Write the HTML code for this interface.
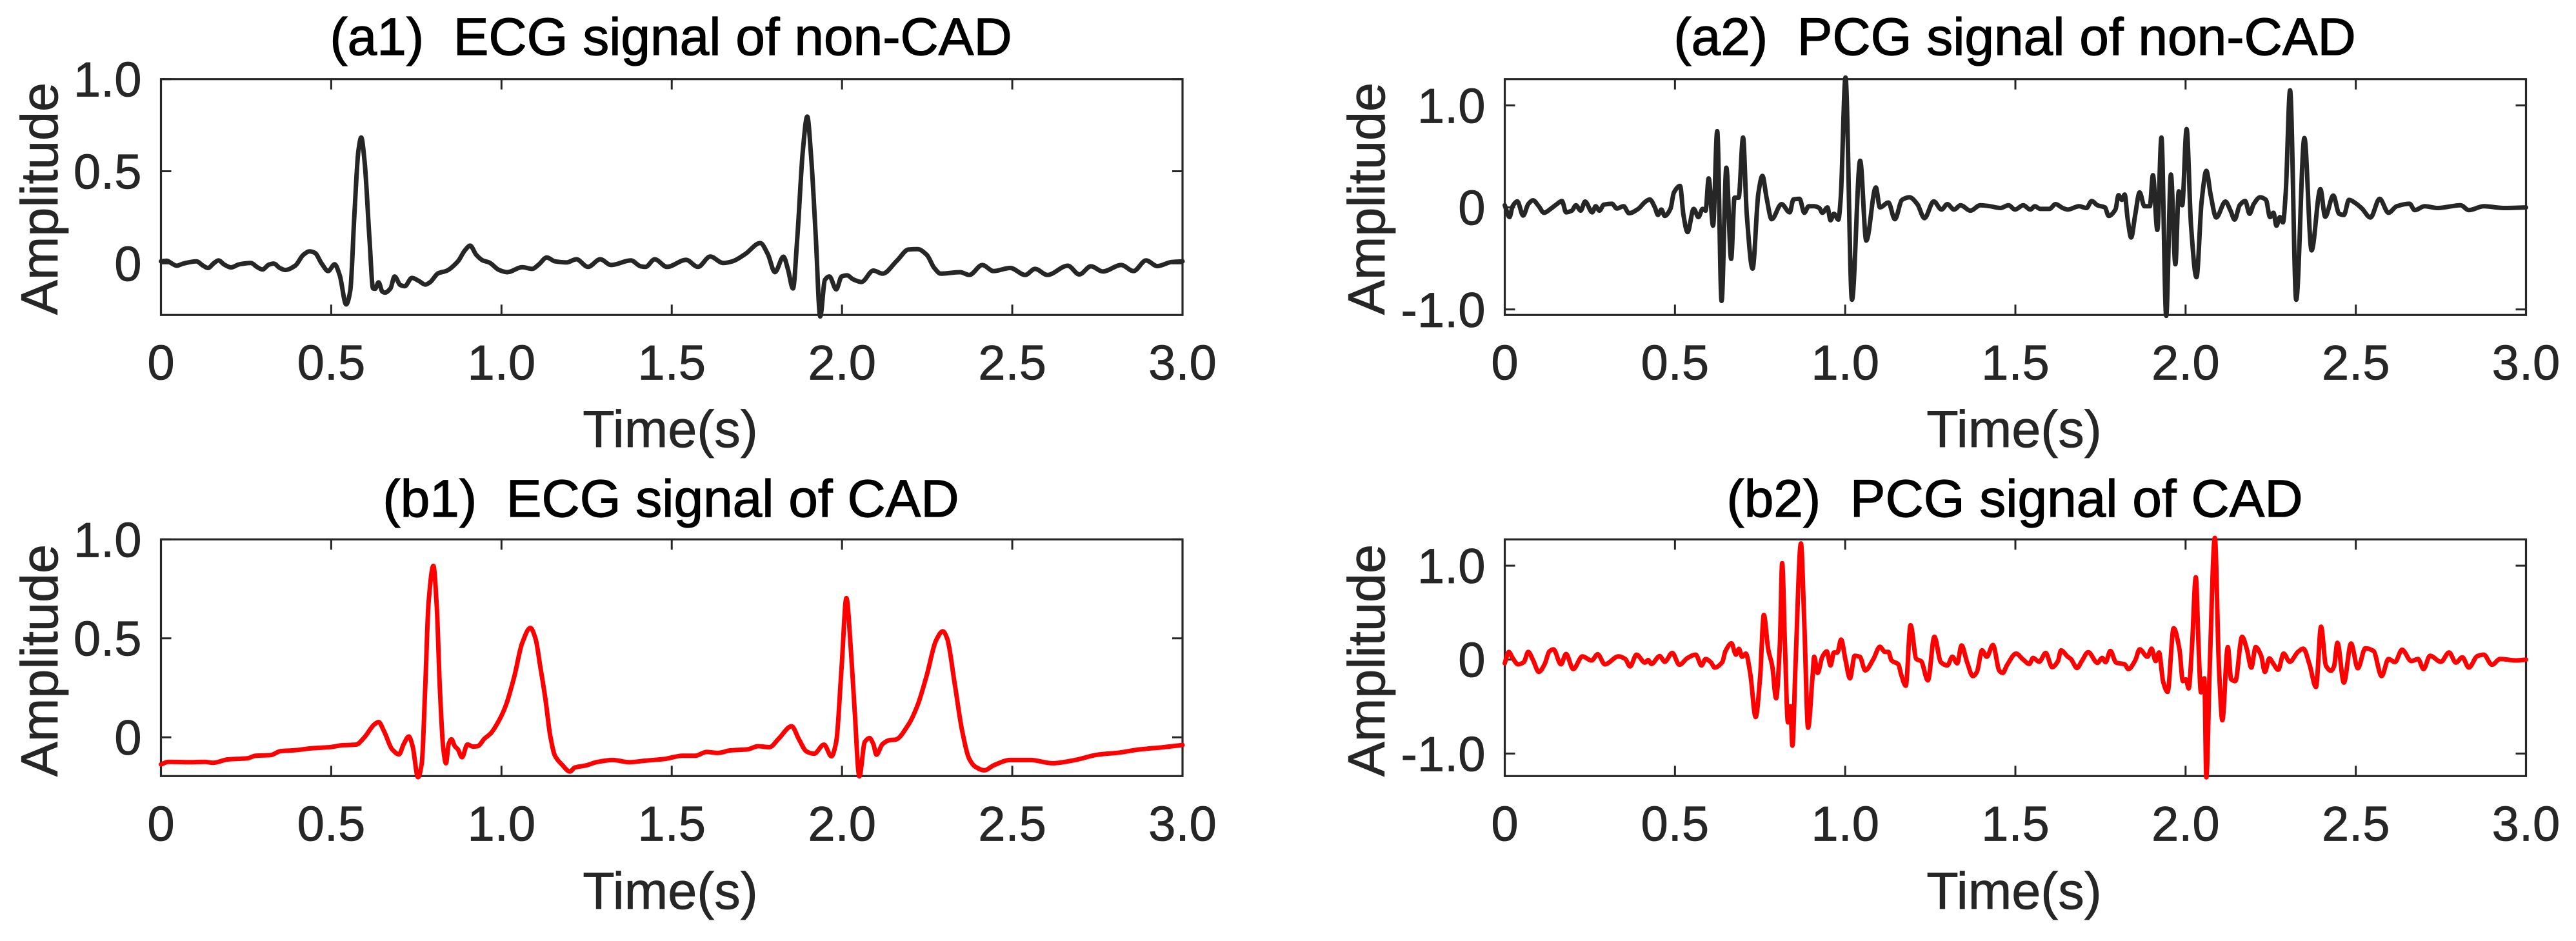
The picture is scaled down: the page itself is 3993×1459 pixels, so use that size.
<!DOCTYPE html>
<html lang="en">
<head>
<meta charset="utf-8">
<title>ECG and PCG signals of non-CAD and CAD</title>
<style>
  html, body { margin: 0; padding: 0; background: #fff; }
  svg { display: block; }
  text { font-family: "Liberation Sans", Arial, sans-serif; fill: #262626; stroke: #262626; stroke-width: 0.8px; }
  .title { font-size: 82px; fill: #000; stroke: #000; stroke-width: 1.2px; text-anchor: middle; }
  .xlabel { font-size: 81px; text-anchor: middle; }
  .ylabel { font-size: 81px; text-anchor: middle; }
</style>
</head>
<body>
<svg id="figure" xmlns="http://www.w3.org/2000/svg" width="3993" height="1459" viewBox="0 0 3993 1459">
  <rect x="0" y="0" width="3993" height="1459" fill="#ffffff"/>
  <g id="panel-a1">
    <text class="title" x="1040" y="85" xml:space="preserve">(a1)  ECG signal of non-CAD</text>
    <text class="xlabel" x="1039" y="693">Time(s)</text>
    <text class="ylabel" transform="translate(89 308) rotate(-90)">Amplitude</text>
  </g>
  <g id="panel-a2">
    <text class="title" x="3123" y="85" xml:space="preserve">(a2)  PCG signal of non-CAD</text>
    <text class="xlabel" x="3122" y="693">Time(s)</text>
    <text class="ylabel" transform="translate(2146 308) rotate(-90)">Amplitude</text>
  </g>
  <g id="panel-b1">
    <text class="title" x="1040" y="801" xml:space="preserve">(b1)  ECG signal of CAD</text>
    <text class="xlabel" x="1039" y="1409">Time(s)</text>
    <text class="ylabel" transform="translate(89 1024) rotate(-90)">Amplitude</text>
  </g>
  <g id="panel-b2">
    <text class="title" x="3123" y="801" xml:space="preserve">(b2)  PCG signal of CAD</text>
    <text class="xlabel" x="3122" y="1409">Time(s)</text>
    <text class="ylabel" transform="translate(2146 1024) rotate(-90)">Amplitude</text>
  </g>
</svg>
<script>
const xTickValues = [0, 0.5, 1, 1.5, 2, 2.5, 3];
const xTickLabels = ['0', '0.5', '1.0', '1.5', '2.0', '2.5', '3.0'];

const ecgYTickValues = [0, 0.5, 1];
const ecgYTickLabels = ['0', '0.5', '1.0'];
const pcgYTickValues = [-1, 0, 1];
const pcgYTickLabels = ['-1.0', '0', '1.0'];

const a1Times = [0,.017,.032,.046,.066,.104,.124,.138,.156,.169,.186,.206,.230,.264,.283,.298,.317,.331,.349,.365,.394,.418,.436,.452,.472,.491,.510,.525,.544,.556,.568,.580,.588,.598,.612,.623,.629,.639,.650,.658,.674,.686,.703,.716,.737,.757,.776,.790,.814,.839,.872,.892,.908,.926,.945,.964,.993,1.017,1.061,1.090,1.109,1.133,1.157,1.191,1.220,1.254,1.290,1.322,1.380,1.409,1.423,
1.450,1.486,1.542,1.577,1.613,1.651,1.678,1.716,1.760,1.782,1.803,1.828,1.841,1.856,1.869,1.885,1.898,1.909,1.923,1.936,1.950,1.963,1.983,1.999,2.015,2.032,2.057,2.092,2.119,2.162,2.195,2.222,2.249,2.271,2.290,2.347,2.374,2.412,2.445,2.494,2.538,2.567,2.603,2.663,2.697,2.731,2.766,2.820,2.856,2.893,2.926,2.967,3.0];
const a1Values = [.011,.014,-.001,-.013,-.001,.011,-.013,-.025,.002,.016,-.007,-.022,-.005,.002,-.021,-.033,-.007,-.001,-.025,-.036,-.013,.046,.065,.057,-.001,-.042,-.005,-.065,-.223,-.147,.262,.612,.683,.554,.145,-.136,-.138,-.103,-.153,-.159,-.136,-.071,-.118,-.124,-.079,-.095,-.115,-.103,-.054,-.040,.011,.069,.096,.046,.016,.005,-.036,-.048,-.021,-.030,-.007,.032,.011,.005,.022,-.019,.022,-.009,.016,-.016,-.019,
.022,-.019,.019,-.019,.037,.002,.011,.051,.110,.051,-.048,.036,-.030,-.136,.145,.612,.797,.589,.145,-.288,-.089,-.071,-.141,-.071,-.065,-.086,-.101,-.039,-.056,.016,.075,.077,.046,-.025,-.056,-.048,-.063,-.009,-.042,-.025,-.063,-.030,-.063,-.013,-.060,-.016,-.044,-.009,-.042,.016,-.015,.007,.011];

const a2Times = [0,.014,.023,.037,.054,.069,.083,.100,.115,.136,.153,.168,.180,.197,.209,.223,.236,.257,.267,.278,.291,.315,.329,.349,.365,.392,.412,.426,.441,.450,.460,.470,.487,.497,.515,.525,.537,.555,.569,.581,.590,.599,.612,.624,.637,.651,.665,.675,.687,.700,.711,.728,.745,.757,.769,.784,.813,.837,.848,.866,.880,.893,.909,.924,.933,.948,.957,.967,.980,.987,1.001,1.020,1.044,1.062,1.090,1.102,1.127,1.146,1.167,1.189,1.212,1.233,1.260,1.283,1.300,1.320,1.339,1.368,1.397,1.426,
1.456,1.480,1.499,1.523,1.544,1.557,1.573,1.600,1.618,1.639,1.654,1.687,1.709,1.724,1.741,1.763,1.774,1.794,1.803,1.813,1.821,1.830,1.840,1.852,1.865,1.879,1.895,1.904,1.917,1.929,1.943,1.957,1.970,1.980,1.990,2.003,2.016,2.032,2.047,2.061,2.074,2.090,2.117,2.132,2.144,2.159,2.175,2.188,2.200,2.219,2.236,2.248,2.258,2.267,2.277,2.286,2.294,2.307,2.325,2.349,2.370,2.396,2.410,2.434,2.451,2.465,2.480,2.499,2.518,2.543,2.570,2.596,2.620,2.658,2.673,2.702,2.741,2.808,2.832,2.876,2.934,3.0];
const a2Values = [.021,-.095,.011,.059,-.080,.032,.069,.011,-.053,-.011,.032,.063,-.048,-.032,.021,-.032,.057,-.048,.011,-.032,.027,.036,-.011,.011,-.057,-.015,.053,.078,0,-.074,-.021,-.084,-.011,.147,.211,-.074,-.242,-.015,-.095,-.015,-.032,.284,-.179,.747,-.916,.389,-.505,.095,.095,.684,-.074,-.600,.137,.309,.095,-.116,.032,-.048,.078,.084,-.053,.011,.011,-.006,-.053,0,-.126,-.063,-.120,.095,1.273,-.905,.457,-.326,.196,0,.048,-.116,.074,.099,.032,-.105,.059,-.021,.032,-.021,.021,-.032,.021,.011,
-.006,.021,-.021,.021,-.021,.011,-.015,-.015,.032,-.006,-.021,.011,-.006,.063,.021,0,-.084,-.021,.120,.074,.126,-.116,-.295,-.074,.147,.011,.011,.316,-.221,.684,-1.063,.322,-.558,.158,.021,.768,-.179,-.684,.053,.358,.116,-.099,.057,-.032,-.120,.021,.063,-.063,.032,.099,.074,-.095,-.053,-.179,-.095,-.147,.137,1.147,-.905,.680,-.421,.179,-.091,.116,-.063,-.074,.074,.042,-.011,-.099,.084,-.053,.011,.036,-.027,.011,-.006,.021,-.027,.011,-.006,0];

const b1Times = [0,.022,.085,.129,.153,.196,.254,.278,.322,.351,.389,.447,.496,.534,.573,.597,.626,.639,.655,.679,.699,.713,.728,.739,.755,.766,.776,.786,.800,.810,.819,.829,.837,.845,.853,.863,.872,.884,.900,.916,.930,.950,.969,.993,1.013,1.037,1.061,1.085,1.100,1.114,1.129,1.143,1.157,1.177,1.201,1.215,1.249,1.278,1.327,1.375,
1.423,1.477,1.532,1.570,1.602,1.635,1.673,1.722,1.754,1.787,1.814,1.852,1.874,1.896,1.918,1.947,1.969,1.983,1.999,2.013,2.026,2.037,2.051,2.067,2.081,2.092,2.101,2.119,2.141,2.157,2.195,2.222,2.249,2.276,2.296,2.309,2.331,2.353,2.374,2.391,2.418,2.445,2.494,2.554,2.619,2.684,2.750,2.815,2.875,2.945,3.0];
const b1Values = [-.137,-.124,-.126,-.124,-.129,-.112,-.106,-.093,-.090,-.070,-.066,-.055,-.050,-.040,-.037,-.001,.064,.077,.031,-.061,-.086,-.034,.004,-.045,-.202,-.131,.249,.683,.866,.661,.249,-.055,-.131,-.034,-.010,-.045,-.061,-.101,-.036,-.047,-.045,-.007,.021,.086,.162,.303,.477,.553,.498,.357,.194,.010,-.093,-.137,-.173,-.153,-.142,-.126,-.115,-.126,
-.118,-.110,-.093,-.093,-.074,-.079,-.066,-.061,-.045,-.050,-.007,.056,-.012,-.072,-.083,-.037,-.096,-.023,.357,.703,.444,.140,-.197,-.023,-.004,-.034,-.088,-.034,-.014,-.012,.064,.162,.314,.488,.536,.498,.270,.031,-.110,-.148,-.167,-.142,-.115,-.115,-.131,-.115,-.088,-.077,-.061,-.050,-.039];

const b2Times = [0,.012,.023,.039,.056,.069,.083,.100,.117,.131,.143,.165,.180,.201,.228,.255,.273,.294,.334,.354,.368,.387,.412,.421,.431,.455,.470,.492,.513,.537,.561,.578,.590,.605,.617,.639,.648,.666,.679,.688,.697,.708,.721,.737,.750,.761,.774,.786,.797,.808,.815,.823,.832,.839,.845,.854,.870,.880,.891,.904,.909,.919,.933,.946,.957,.967,.977,.988,1.001,1.014,1.028,1.043,1.059,1.083,1.102,1.117,1.127,1.136,1.156,1.165,1.178,1.192,1.209,1.223,1.243,1.262,1.281,1.300,1.315,1.329,1.342,1.358,1.375,1.387,1.402,1.416,1.434,1.453,
1.463,1.475,1.502,1.523,1.541,1.552,1.570,1.589,1.608,1.625,1.634,1.654,1.663,1.681,1.695,1.714,1.741,1.755,1.765,1.779,1.796,1.821,1.832,1.852,1.865,1.888,1.900,1.912,1.922,1.934,1.947,1.965,1.982,1.992,2.001,2.009,2.019,2.030,2.038,2.045,2.055,2.061,2.071,2.086,2.098,2.108,2.124,2.134,2.146,2.166,2.180,2.193,2.206,2.222,2.233,2.246,2.257,2.272,2.288,2.306,2.330,2.346,2.364,2.383,2.398,2.412,2.427,2.436,2.446,2.465,2.486,2.506,2.528,2.552,2.576,2.596,2.615,2.636,2.663,2.683,2.699,2.718,2.750,2.774,2.794,2.813,2.832,2.857,2.876,2.900,2.924,2.971,3.0];
const b2Values = [-.039,.082,.018,-.050,-.027,.082,-.005,-.131,-.050,.087,.110,-.050,.060,-.101,.034,-.009,.057,-.050,.034,.007,-.073,.053,-.032,-.005,-.046,.037,-.023,.071,-.055,.018,.053,-.062,.007,-.027,-.085,-.027,.087,.174,.053,.115,.030,.064,-.142,-.611,-.188,.476,.110,-.073,-.412,.156,1.026,.156,-.669,-.497,-.916,-.073,1.237,.385,-.726,-.188,.030,-.142,.030,.087,-.062,.076,.076,.213,-.005,-.199,.041,.030,-.115,.007,.137,.082,.082,-.009,-.050,-.165,-.279,.366,.007,-.016,-.222,.243,-.027,-.062,.030,-.039,.151,-.027,-.176,-.131,.098,.030,.156,-.119,
-.142,-.062,.064,0,-.046,.018,-.023,.071,-.080,-.016,.098,.030,.007,-.089,-.016,.080,-.034,.018,-.027,.092,-.032,-.050,-.101,-.009,.110,.030,.117,-.016,.076,-.234,-.344,.334,.110,-.229,-.211,-.307,.156,.877,.156,-.348,-.199,-1.253,-.073,1.296,-.073,-.646,.133,-.211,-.229,.243,.110,-.085,.133,.041,-.131,.014,-.039,-.108,.064,-.023,.082,.117,-.050,-.291,.350,-.062,-.119,-.073,.179,-.245,.172,-.092,.121,.092,-.176,.007,-.027,.105,-.016,.007,-.101,.041,-.023,.076,-.032,.025,-.085,.037,.053,-.055,.007,-.009,0];

const SVG_NS = 'http://www.w3.org/2000/svg';
const AXIS_COLOR = '#262626';

function smoothPath(px, py) {
  const n = Math.min(px.length, py.length);
  const d = [], m = new Array(n).fill(0);
  for (let i = 0; i < n - 1; i++) d.push((py[i + 1] - py[i]) / Math.max(px[i + 1] - px[i], 0.01));
  m[0] = d[0]; m[n - 1] = d[n - 2];
  for (let i = 1; i < n - 1; i++) {
    m[i] = d[i - 1] * d[i] <= 0 ? 0 : 2 * d[i - 1] * d[i] / (d[i - 1] + d[i]);
  }
  let out = 'M' + px[0].toFixed(1) + ' ' + py[0].toFixed(1);
  for (let i = 0; i < n - 1; i++) {
    const h = (px[i + 1] - px[i]) / 3;
    out += 'C' + (px[i] + h).toFixed(1) + ' ' + (py[i] + m[i] * h).toFixed(1) + ' ' +
      (px[i + 1] - h).toFixed(1) + ' ' + (py[i + 1] - m[i + 1] * h).toFixed(1) + ' ' +
      px[i + 1].toFixed(1) + ' ' + py[i + 1].toFixed(1);
  }
  return out;
}

function drawPanel(id, left, right, top, bottom, yMin, yMax, yTicks, yLabels, times, values, color) {
  const group = document.getElementById(id);
  const xScale = t => left + (t - 0) / 3 * (right - left);
  const yScale = v => bottom - (v - yMin) / (yMax - yMin) * (bottom - top);

  const box = document.createElementNS(SVG_NS, 'rect');
  
  
  box.setAttribute('x', left);
  box.setAttribute('y', top);
  box.setAttribute('width', right - left);
  box.setAttribute('height', bottom - top);
  box.setAttribute('fill', 'none');
  box.setAttribute('stroke', AXIS_COLOR);
  box.setAttribute('stroke-width', 3.2);
  group.appendChild(box);

  xTickValues.forEach((tv, i) => {
    const x = xScale(tv);
    [[top, top + 16], [bottom, bottom - 16]].forEach(pair => {
      const tick = document.createElementNS(SVG_NS, 'line');
      
      
      tick.setAttribute('x1', x);
      tick.setAttribute('x2', x);
      tick.setAttribute('y1', pair[0]);
      tick.setAttribute('y2', pair[1]);
      tick.setAttribute('stroke', AXIS_COLOR);
      tick.setAttribute('stroke-width', 3);
      group.appendChild(tick);
    });
    const label = document.createElementNS(SVG_NS, 'text');
    
    
    label.setAttribute('x', x);
    label.setAttribute('y', bottom + 100);
    label.setAttribute('text-anchor', 'middle');
    label.setAttribute('font-size', '76');
    label.textContent = xTickLabels[i];
    group.appendChild(label);
  });

  yTicks.forEach((tv, i) => {
    const y = yScale(tv);
    [[left, left + 16], [right, right - 16]].forEach(pair => {
      const tick = document.createElementNS(SVG_NS, 'line');
      
      
      tick.setAttribute('x1', pair[0]);
      tick.setAttribute('x2', pair[1]);
      tick.setAttribute('y1', y);
      tick.setAttribute('y2', y);
      tick.setAttribute('stroke', AXIS_COLOR);
      tick.setAttribute('stroke-width', 3);
      group.appendChild(tick);
    });
    const label = document.createElementNS(SVG_NS, 'text');
    
    
    label.setAttribute('x', left - 30);
    label.setAttribute('y', y + 27);
    label.setAttribute('text-anchor', 'end');
    label.setAttribute('font-size', '76');
    label.textContent = yLabels[i];
    group.appendChild(label);
  });

  const line = document.createElementNS(SVG_NS, 'path');
  
  
  line.setAttribute('d', smoothPath(times.map(xScale), values.map(yScale)));
  line.setAttribute('fill', 'none');
  line.setAttribute('stroke', color);
  line.setAttribute('stroke-width', 7);
  line.setAttribute('stroke-linejoin', 'round');
  line.setAttribute('stroke-linecap', 'round');
  group.appendChild(line);
}

drawPanel('panel-a1', 249.5, 1833, 122.7, 488.3, -0.28, 1, ecgYTickValues, ecgYTickLabels, a1Times, a1Values, '#262626');
drawPanel('panel-a2', 2332.5, 3915.5, 122.7, 488.3, -1.054, 1.257, pcgYTickValues, pcgYTickLabels, a2Times, a2Values, '#262626');
drawPanel('panel-b1', 249.5, 1833, 836.3, 1203.3, -0.196, 1, ecgYTickValues, ecgYTickLabels, b1Times, b1Values, '#ff0000');
drawPanel('panel-b2', 2332.5, 3915.5, 836.3, 1203.3, -1.24, 1.28, pcgYTickValues, pcgYTickLabels, b2Times, b2Values, '#ff0000');
</script>
</body>
</html>
